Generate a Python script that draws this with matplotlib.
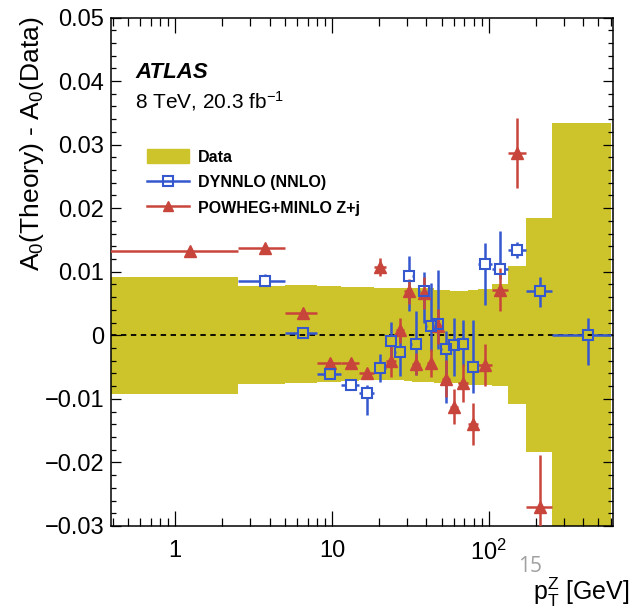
import numpy as np
import matplotlib
matplotlib.use("Agg")
import matplotlib.pyplot as plt
import matplotlib.ticker as mt
from matplotlib.lines import Line2D
from matplotlib.patches import Patch
from matplotlib.collections import LineCollection

FONT = "Liberation Sans"
plt.rcParams["font.family"] = [FONT, "DejaVu Sans"]
plt.rcParams["mathtext.fontset"] = "custom"
plt.rcParams["mathtext.rm"] = FONT
plt.rcParams["mathtext.it"] = FONT + ":italic"
plt.rcParams["mathtext.bf"] = FONT + ":bold"

# ---------------- data ----------------
pt_edges = [0, 2.5, 5, 8, 11.4, 14.9, 18.5, 22, 25.5, 29, 32.6, 36.4, 40.4,
            44.9, 50.2, 56.4, 63.9, 73.4, 85.4, 105, 132, 173, 253, 600]

data_up = [0.0092, 0.0078, 0.0079, 0.0077, 0.0076, 0.0076, 0.0075, 0.0075,
           0.0074, 0.0074, 0.0074, 0.0074, 0.0074, 0.0072, 0.0071, 0.0069,
           0.0069, 0.0072, 0.0073, 0.0080, 0.0109, 0.0185, 0.0334]
data_down = [-0.0092, -0.0076, -0.0075, -0.0073, -0.0072, -0.0071, -0.0071,
             -0.0071, -0.0071, -0.0072, -0.0073, -0.0073, -0.0074, -0.0075,
             -0.0075, -0.0075, -0.0076, -0.0078, -0.0078, -0.0079, -0.0108,
             -0.0183, -0.0400]

dynnlo = [np.nan, 0.0086, 0.0003, -0.0061, -0.0078, -0.0090, -0.0052, -0.0009,
          -0.0026, 0.0093, -0.0014, 0.0069, 0.0015, 0.0018, -0.0021, -0.0015,
          -0.0014, -0.0050, 0.0112, 0.0104, 0.0134, 0.0070, 0.0000]
dynnlo_err_lo = [0, 0.0008, 0.0003, 0.0006, 0.0006, 0.0035, 0.0021, 0.0030,
                 0.0038, 0.0054, 0.0048, 0.0050, 0.0040, 0.0040, 0.0086, 0.0049,
                 0.0035, 0.0040, 0.0064, 0.0015, 0.0013, 0.0026, 0.0047]
dynnlo_err_hi = [0, 0.0011, 0.0003, 0.0006, 0.0006, 0.0012, 0.0022, 0.0030,
                 0.0024, 0.0031, 0.0053, 0.0031, 0.0067, 0.0084, 0.0027, 0.0042,
                 0.0038, 0.0074, 0.0033, 0.0060, 0.0013, 0.0022, 0.0027]

powheg = [0.0132, 0.0137, 0.0035, -0.0044, -0.0044, -0.0060, 0.0108, -0.0041,
          0.0008, 0.0069, -0.0045, 0.0066, -0.0043, 0.0014, -0.0068, -0.0112,
          -0.0075, -0.0140, -0.0047, 0.0072, 0.0287, -0.0270, np.nan]
powheg_err = [0.0003, 0.0003, 0.0003, 0.0005, 0.0005, 0.0007, 0.0014, 0.0025,
              0.0020, 0.0020, 0.0017, 0.0025, 0.0022, 0.0028, 0.0029, 0.0028,
              0.0030, 0.0033, 0.0033, 0.0034, 0.0055, 0.0082, 0.0]

xtick_vals = [1, 10, 100]
xtick_labels = ["1", "10", "$10^{2}$"]
ytick_vals = [-0.03, -0.02, -0.01, 0, 0.01, 0.02, 0.03, 0.04, 0.05]
ytick_labels = ["\u22120.03", "\u22120.02", "\u22120.01", "0", "0.01", "0.02",
                "0.03", "0.04", "0.05"]

YEL = "#cdc42b"
BLUE = "#3558cf"
RED = "#c8453c"

# ---------------- figure ----------------
W, H = 635, 616
fig = plt.figure(figsize=(W / 100, H / 100), dpi=100)
ax = fig.add_axes([111 / W, (H - 526) / H, (613 - 111) / W, (526 - 17.5) / H])
ax.set_xscale("log")
XMIN, XMAX = 0.39, 620
ax.set_xlim(XMIN, XMAX)
ax.set_ylim(-0.03, 0.05)

edges = np.array(pt_edges, dtype=float)
centers = 0.5 * (edges[:-1] + edges[1:])
plot_edges = edges.copy()
plot_edges[0] = 0.1  # beyond left edge of log axis
left = plot_edges[:-1]
right = plot_edges[1:]

ax.stairs(data_up, plot_edges, baseline=data_down, fill=True, color=YEL,
          lw=0, zorder=1)
ax.axhline(0, color="black", lw=1.3, ls=(0, (3, 2.5)), zorder=2)

# blue error bars with gap around the open marker
trans = ax.transData
inv = trans.inverted()
gap = 5.0
segs = []
dy = np.array(dynnlo, dtype=float)
for i in range(len(dy)):
    if np.isnan(dy[i]):
        continue
    x, y = centers[i], dy[i]
    px, py = trans.transform((x, y))
    _, y_gd = inv.transform((px, py - gap))
    _, y_gu = inv.transform((px, py + gap))
    x_gl, _ = inv.transform((px - gap, py))
    x_gr, _ = inv.transform((px + gap, py))
    ylo = y - dynnlo_err_lo[i]
    yhi = y + dynnlo_err_hi[i]
    if ylo < y_gd:
        segs.append([(x, ylo), (x, y_gd)])
    if yhi > y_gu:
        segs.append([(x, y_gu), (x, yhi)])
    segs.append([(left[i], y), (x_gl, y)])
    segs.append([(x_gr, y), (right[i], y)])
ax.add_collection(LineCollection(segs, colors=BLUE, linewidths=1.8, zorder=3))

ax.errorbar(centers, powheg, xerr=[centers - left, right - centers],
            yerr=powheg_err, fmt="none", ecolor=RED, elinewidth=1.8,
            capsize=0, zorder=4)
ax.plot(centers, powheg, ls="none", marker="^", ms=8, color=RED, mec=RED,
        zorder=5)
ax.plot(centers, dynnlo, ls="none", marker="s", ms=7, mfc="none", mec=BLUE,
        mew=1.5, zorder=6)

# ---------------- axes styling ----------------
ax.xaxis.set_major_locator(mt.FixedLocator(xtick_vals))
ax.xaxis.set_major_formatter(mt.FixedFormatter(xtick_labels))
ax.xaxis.set_minor_locator(mt.LogLocator(base=10, subs=np.arange(2, 10) * 1.0,
                                         numticks=30))
ax.xaxis.set_minor_formatter(mt.NullFormatter())
ax.yaxis.set_major_locator(mt.FixedLocator(ytick_vals))
ax.yaxis.set_major_formatter(mt.FixedFormatter(ytick_labels))
ax.yaxis.set_minor_locator(mt.MultipleLocator(0.002))

ax.tick_params(which="both", direction="in", top=True, right=True,
               width=0.9, labelsize=17, colors="black")
ax.tick_params(axis="x", which="major", length=11, pad=10)
ax.tick_params(axis="x", which="minor", length=5.5)
ax.tick_params(axis="y", which="major", length=7.5, pad=5)
ax.tick_params(axis="y", which="minor", length=3.8)
for s in ax.spines.values():
    s.set_linewidth(1.1)

# ---------------- texts ----------------
fig.text(32 / W, 1 - 17 / H, "A$_{0}$(Theory) - A$_{0}$(Data)", rotation=90,
         ha="center", va="top", fontsize=19)
fig.text(0.992, 1 - 592 / H, r"p$_{\mathrm{T}}^{\mathrm{Z}}$ [GeV]", ha="right",
         va="center", fontsize=18)
fig.text(135 / W, 1 - 72 / H, "ATLAS", fontsize=16, fontweight="bold",
         fontstyle="italic", va="center")
fig.text(135 / W, 1 - 101 / H, r"8 TeV, 20.3 fb$^{\mathrm{-1}}$", fontsize=15,
         va="center")
fig.text(530 / W, 1 - 566 / H, "15", fontsize=15, color="#a0a0a0",
         ha="center", va="center", family=["Open Sans", "DejaVu Sans"])

handles = [
    Patch(facecolor=YEL, edgecolor=YEL),
    Line2D([], [], color=BLUE, lw=1.8, marker="s", ms=6.6, mfc="none",
           mec=BLUE, mew=1.5),
    Line2D([], [], color=RED, lw=1.8, marker="^", ms=7.5, mfc=RED, mec=RED),
]
labels = ["Data", "DYNNLO (NNLO)", "POWHEG+MINLO Z+j"]
fig.legend(handles, labels, loc="upper left",
           bbox_to_anchor=(147 / W, 1 - 149 / H), bbox_transform=fig.transFigure,
           frameon=False, borderpad=0, borderaxespad=0, handlelength=2.6,
           handleheight=1.0, handletextpad=0.6, labelspacing=0.62,
           prop={"family": FONT, "weight": "bold", "size": 11.5})

fig.savefig("out.png", dpi=100)
